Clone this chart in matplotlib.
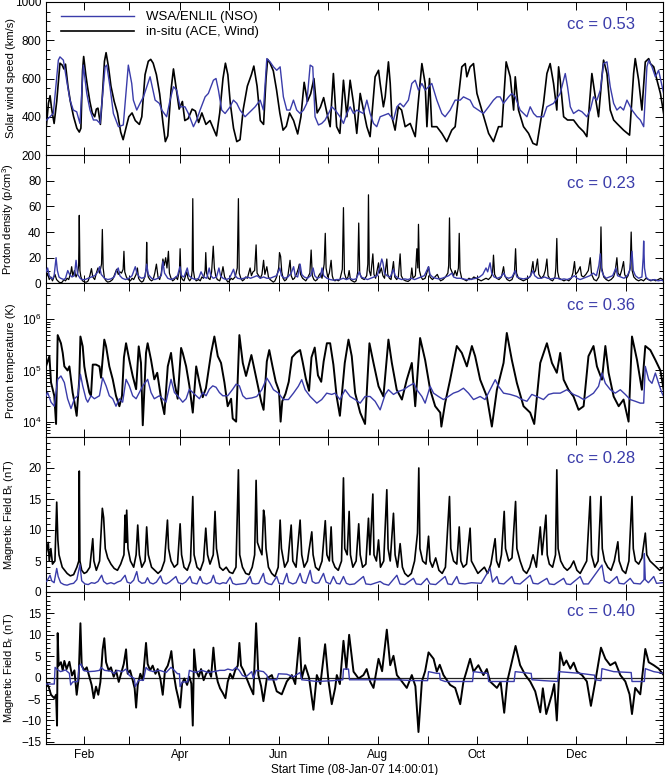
import datetime as dt
import matplotlib
matplotlib.use("Agg")
import matplotlib.pyplot as plt
import matplotlib.dates as mdates
from matplotlib.ticker import MultipleLocator, LogLocator, NullFormatter

# ---- data (day offset from 2007-01-08 14:00, value) ----
start = dt.datetime(2007, 1, 8, 14, 0, 1)
span_days = 380

speed_obs = [(0, 330), (1.5, 470), (2.5, 510), (3.5, 440), (5, 365), (6.6, 480), (8.6, 680), (10, 670),
             (11, 650), (12, 675), (13.5, 560), (15, 480), (17, 400), (19, 340), (20.5, 320), (21.5, 340),
             (22.5, 640), (23.2, 715), (24.5, 620), (25.5, 560), (27, 480), (28.5, 420), (30, 400), (31, 440),
             (32, 445), (33.5, 360), (34.5, 480), (36, 690), (37, 735), (38.5, 660), (40, 560), (42, 480),
             (44, 420), (46, 320), (47.5, 280), (49.5, 350), (51, 400), (53, 420), (55, 380), (57.5, 360),
             (59, 400), (61, 620), (63, 690), (64.5, 700), (66, 680), (68, 620), (70, 520), (72, 370),
             (73.5, 270), (75, 300), (77, 540), (78.5, 650), (80, 560), (82, 440), (84, 480), (85.5, 380),
             (87.5, 390), (90, 440), (92, 430), (94, 370), (96, 420), (98.5, 360), (101, 380), (103, 340),
             (105, 300), (107, 420), (109, 600), (110.5, 680), (112, 620), (113.5, 470), (115.5, 340),
             (117.5, 270), (119.5, 280), (121.5, 440), (124, 560), (126.5, 620), (128, 665), (130, 560),
             (132, 380), (134, 360), (135.5, 600), (136.5, 700), (138, 680), (140, 640), (142, 540),
             (144, 420), (146, 330), (148, 350), (150, 420), (152.5, 380), (155, 310), (157, 400), (159, 580),
             (161, 480), (163, 520), (165, 600), (167, 420), (169, 450), (171, 500), (173, 420), (175, 348),
             (177, 626), (179, 348), (181, 313), (183.2, 591), (185.3, 400), (187.3, 591), (189.4, 470),
             (191.4, 313), (193.5, 522), (195.5, 435), (197.6, 348), (199.6, 296), (202.7, 609),
             (204.8, 643), (205.8, 574), (207.8, 452), (208.9, 504), (210.9, 687), (212, 574), (213, 400),
             (215, 330), (217, 452), (219, 435), (221.2, 348), (224.3, 365), (227.4, 296), (229.4, 487),
             (231.5, 678), (233.5, 574), (234.6, 348), (236.2, 600), (237.6, 348), (240.7, 348),
             (243.8, 313), (246.8, 270), (249.9, 330), (252, 348), (256.1, 661), (258.2, 678), (259.2, 609),
             (261.2, 661), (263.3, 678), (265.4, 522), (268.4, 435), (272.6, 313), (275.6, 270),
             (278.7, 348), (280.8, 348), (283.4, 687), (285.9, 609), (288, 435), (289, 609), (291, 435),
             (294.1, 348), (297.2, 313), (299.9, 261), (302.3, 252), (306.4, 470), (308.5, 626),
             (310.5, 678), (312.6, 574), (314.6, 435), (315.7, 661), (316.7, 591), (318.8, 400),
             (321.2, 383), (324.9, 383), (328, 348), (331.1, 322), (333.1, 296), (336.2, 626), (338.3, 504),
             (340.3, 400), (342.4, 609), (343.4, 696), (345.5, 626), (347.5, 435), (349.6, 383),
             (351.6, 365), (355.7, 330), (359.4, 304), (361.9, 626), (362.9, 704), (365, 591), (367, 435),
             (369.1, 687), (371.2, 704), (372.2, 678), (374.3, 661), (376.3, 591), (378.4, 522), (380.4, 417)]

speed_model = [(0.4, 383), (4.5, 417), (7.6, 696), (8.6, 713), (10.7, 696), (12.7, 591), (14.8, 487),
               (16.8, 435), (18.9, 426), (20.9, 365), (23, 670), (25.1, 522), (27.1, 435), (29.2, 383),
               (31.2, 383), (33.3, 365), (36.4, 661), (37.4, 670), (39.4, 557), (41.5, 417), (44.6, 348),
               (47.6, 357), (50.7, 670), (52.8, 574), (53.8, 487), (55.9, 435), (57.9, 470), (60, 504),
               (64.1, 609), (67.2, 487), (69.8, 470), (71.3, 435), (74.3, 400), (76.4, 487), (78.5, 557),
               (80.5, 539), (82.6, 452), (85.6, 452), (87.7, 417), (90.8, 348), (92.8, 383), (94.9, 435),
               (98, 504), (100, 522), (103.1, 591), (104.7, 600), (106.2, 539), (108.2, 435), (110.3, 417),
               (113.4, 452), (115.4, 487), (117.5, 470), (119.5, 435), (122.6, 400), (125.7, 426),
               (128.8, 452), (131.9, 487), (133.9, 435), (136, 704), (138, 687), (140.1, 661), (142.1, 643),
               (144.2, 661), (146.2, 504), (148.3, 435), (150.3, 435), (152.4, 487), (154.4, 435),
               (156.5, 417), (158.6, 435), (160.6, 470), (162.7, 670), (164.3, 661), (165.7, 400),
               (167.8, 357), (169.8, 365), (171.9, 383), (174, 417), (176, 452), (178.1, 435), (181.1, 400),
               (183.2, 365), (185.3, 417), (187.3, 452), (189.4, 417), (191.4, 435), (195.5, 417),
               (197.6, 487), (199.6, 417), (201.7, 365), (203.7, 348), (205.8, 400), (210.9, 417),
               (214, 383), (216.1, 452), (218.1, 470), (220.2, 452), (223.2, 487), (225.3, 574), (227.4, 591),
               (229.4, 539), (231.5, 574), (233.5, 539), (235.6, 557), (237.6, 574), (240.7, 487),
               (243.8, 417), (245.8, 400), (248.9, 435), (252, 487), (255.1, 487), (257.1, 504), (261.2, 487),
               (263.3, 452), (266.3, 435), (269.4, 417), (272.6, 452), (275.6, 487), (277.7, 504),
               (279.7, 504), (281.8, 470), (284.9, 504), (286.9, 522), (289, 504), (292, 435), (296.2, 400),
               (298.2, 452), (300.3, 417), (302.3, 400), (306.4, 400), (308.5, 452), (312.6, 470),
               (316.7, 522), (319.8, 626), (321.2, 557), (322.9, 452), (324.9, 417), (328, 435), (330.1, 426),
               (333.1, 400), (335.2, 435), (337.2, 504), (339.3, 487), (341.4, 539), (343.4, 678),
               (345.5, 687), (347.5, 557), (349.6, 470), (351.6, 435), (353.7, 452), (355.7, 435),
               (357.8, 487), (360.9, 435), (364, 400), (366, 383), (368.1, 348), (370.1, 661), (371.2, 696),
               (373.2, 661), (375.3, 609), (377.3, 643), (380.4, 522)]

dens_obs = [(0, 4), (1, 8), (2, 3), (3, 5), (4, 2), (5.5, 7), (6.5, 3), (8, 1), (9, 0.5), (10, 1), (11, 3),
            (12, 2), (13, 4), (14, 3), (15.2, 8), (15.8, 13), (16.5, 6), (17.5, 10), (18.5, 5), (19.5, 8),
            (20.1, 14), (20.5, 53), (20.9, 10), (21.5, 5), (22.5, 2), (24, 1), (25, 1), (26, 2), (27, 6),
            (28, 11.5), (28.8, 5), (30, 3), (31, 8), (32, 12), (33, 8), (34.2, 15), (34.7, 42), (35.2, 12),
            (36, 4), (37, 2), (38, 1), (39.5, 1.5), (41, 3), (42, 6), (43.5, 11), (44.5, 7), (45.5, 9),
            (46.5, 8), (47.5, 11), (48, 25), (48.5, 9), (49.5, 5), (50.5, 3), (52, 2), (53, 4), (54, 3),
            (55.5, 7), (56.3, 12), (57, 4), (58, 2), (59, 1), (60, 2), (61, 6), (61.7, 12), (62, 32),
            (62.4, 10), (63, 5), (64, 3), (65, 2), (66, 3), (67, 8), (68, 15), (69, 5), (70, 3), (71, 8),
            (72, 19), (72.8, 14), (73.7, 20), (74.5, 12), (75.4, 25), (76, 8), (77, 4), (78, 2), (79, 3),
            (80, 5), (81, 3), (82.2, 10), (82.6, 27), (83.1, 6), (84, 3), (85, 2), (86.7, 9), (87.5, 4),
            (88.5, 2), (89.5, 4), (90, 10), (90.4, 66), (90.8, 10), (91.5, 4), (92.5, 2), (94, 3), (95, 2),
            (96, 5), (97, 4), (98, 10), (98.4, 24), (98.9, 8), (100, 4), (101, 3), (102, 9), (103, 29),
            (103.7, 12), (104.5, 6), (105.5, 3), (107, 2), (108, 6), (109, 13), (110, 5), (111, 3), (112, 1),
            (113, 2), (114, 4), (115, 3), (116.5, 5), (117.8, 12), (118.5, 66), (119, 8), (120, 4), (121, 2),
            (122, 3), (123, 5), (124, 4), (125.7, 12), (126.5, 6), (127.5, 9), (128.5, 10), (129.4, 30),
            (130, 8), (131, 6), (132, 4), (133, 7), (134, 18), (134.8, 7), (136, 13), (137, 5), (138, 3),
            (139, 2), (140, 1), (141, 2), (142, 5), (143.3, 12), (143.8, 24), (144.5, 21), (145.2, 9),
            (146, 4), (147, 2), (148, 3), (149, 6), (150.3, 18), (151, 6), (152, 3), (153, 4), (154.5, 8),
            (155.5, 12), (156, 15), (156.8, 7), (158, 4), (159, 3), (160, 2), (161, 4), (162.5, 8),
            (163.3, 26), (164, 6), (165, 3), (166, 2), (167, 3), (168, 6), (169, 8), (170, 4), (171.3, 15),
            (172, 39), (172.5, 12), (173.5, 5), (174.5, 8), (175.6, 18), (176.3, 6), (177, 3), (178, 2),
            (179, 3), (180, 2), (181, 3), (182.5, 11), (183.2, 59), (183.8, 8), (185, 3), (186, 5),
            (186.7, 10), (187.5, 3), (188.5, 2), (190, 1), (191, 2), (192, 9), (192.6, 47), (193.2, 8),
            (194.5, 4), (196, 3), (197.5, 6), (198.2, 15), (198.6, 69), (199.1, 10), (200, 6), (201.3, 23),
            (202, 7), (203, 4), (204.8, 16), (205.5, 8), (206.5, 12), (207.5, 6), (208.5, 4), (209.9, 19),
            (210.5, 7), (211.5, 4), (212.5, 3), (214, 17), (214.8, 5), (216, 3), (217, 5), (218.1, 23),
            (218.8, 6), (220, 3), (221.5, 2), (223, 1.5), (224.5, 3), (225.3, 12), (226, 4), (227.5, 6),
            (228.4, 27), (229, 12), (229.4, 46), (230, 10), (231, 5), (232, 3), (233.5, 4), (234.5, 8),
            (235.6, 13), (236.5, 5), (238, 3), (239.5, 5), (241, 7), (242, 4), (243, 2), (244.5, 3),
            (246, 5), (247.5, 8), (248, 14), (248.5, 51), (249, 12), (250, 9), (251, 6), (252, 10), (253, 6),
            (254, 12), (254.5, 39), (255, 10), (256, 4), (257.5, 3), (259, 2), (260.5, 4), (262, 3),
            (263.5, 5), (265, 4), (266.5, 3), (268, 2), (269.5, 3), (271, 4), (272.5, 3), (274, 5), (275, 8),
            (275.6, 22), (276.3, 7), (277.5, 4), (279, 3), (280.5, 5), (281.8, 13), (282.5, 6), (284, 3),
            (285.5, 2), (287, 3), (288.5, 8), (289.2, 27), (289.8, 8), (291, 4), (292.5, 3), (294, 2),
            (295.5, 3), (297, 4), (298.5, 6), (299.9, 17), (300.5, 8), (301.5, 10), (302.7, 19), (303.5, 7),
            (305, 4), (306.5, 6), (307.5, 10), (308.5, 19), (309.2, 6), (310.5, 3), (312, 2), (313.5, 5),
            (314, 12), (314.6, 35), (315.1, 9), (316, 4), (317.5, 3), (319, 2), (320.5, 3), (322, 2),
            (323.5, 4), (324.5, 8), (325.5, 17), (326.2, 7), (327.5, 9), (329, 13), (329.8, 6), (331, 5),
            (332.5, 7), (334, 10), (335.2, 20), (336, 7), (337.5, 3), (339, 2), (340.5, 5), (341.3, 12),
            (341.8, 44), (342.3, 12), (343.5, 5), (345, 3), (346.5, 2), (348, 3), (349.5, 5), (350.5, 9),
            (351.6, 20), (352.3, 8), (353.5, 6), (354.5, 10), (355.7, 17), (356.4, 7), (357.5, 4), (358.5, 6),
            (359.8, 12), (360.4, 40), (361, 10), (362, 5), (363.5, 3), (365, 2), (366.5, 3), (368, 2),
            (369.5, 4), (371, 3), (372.5, 2), (374, 3), (375.5, 2), (377, 3), (378.5, 4), (380, 3)]

dens_model = [(0, 9), (1, 12), (2, 6), (3, 4), (4, 3.5), (5, 6), (6.2, 20), (7, 10), (8, 5), (9, 4), (10, 3.5),
              (11, 3), (12, 4), (13.4, 10), (14.5, 7), (16, 5), (17.5, 6), (18.5, 18), (19.5, 7), (21, 4),
              (22, 3), (24, 3), (26, 4), (28, 5), (30, 6), (32, 9), (33, 13), (34, 7), (36, 4), (38, 3),
              (40, 3.5), (42, 5), (43.5, 10), (44.5, 12), (45.5, 6), (47, 4), (49, 3), (51, 4), (53, 6),
              (55, 13), (56, 8), (57.5, 5), (59, 4), (61, 5), (62, 15), (63, 7), (65, 4), (67, 3), (69, 4),
              (71, 6), (72, 17), (73, 8), (75, 4), (77, 3), (79, 4), (81, 6), (82.5, 13), (83.5, 6), (85, 5),
              (87, 12), (88, 6), (90, 4), (92, 3), (94, 4), (95.5, 9), (97, 5), (99, 4), (100.5, 12),
              (101.5, 6), (103, 4), (105, 5), (106.5, 12), (107.5, 6), (109, 4), (111, 3), (113, 4),
              (115.5, 11), (116.5, 6), (118, 4), (120, 3.5), (122, 4), (124, 5), (126, 4), (128, 5), (130, 6),
              (132, 4), (134, 5), (136, 4), (138, 4), (140, 5), (142, 6), (144, 12), (145, 6), (147, 4),
              (149, 5), (151, 8), (152.5, 13), (153.5, 6), (155, 5), (156.5, 15), (157.5, 7), (159, 5),
              (161, 4), (163, 6), (164.5, 12), (165.5, 6), (167, 4), (169, 5), (170, 12), (171, 6), (173, 4),
              (175, 3), (177, 2.5), (179, 3), (181, 3), (183, 4), (185, 3), (187, 4), (189, 3), (191, 3.5),
              (193, 9), (194, 5), (196, 4), (198, 3), (200, 4), (202, 5), (204, 6), (205.5, 12), (206.8, 19),
              (207.5, 16), (208.5, 8), (210, 6), (212, 5), (214, 11), (215, 6), (217, 4), (219, 3),
              (221, 3.5), (223, 3), (225, 4), (227, 3), (229, 4), (231, 5), (233, 6), (235.6, 13), (236.5, 7),
              (238, 5), (240, 4), (242, 3.5), (244, 4), (246, 5), (248, 6), (250, 8), (251, 5), (253, 4),
              (255, 4), (257, 3.5), (259, 3), (261, 3), (263, 3.5), (265, 4), (267, 5), (269, 7), (271, 12),
              (272, 9), (273.5, 16), (274.5, 8), (276, 5), (278, 4), (280, 5), (282, 8), (283, 5), (285, 4),
              (287, 5), (289, 10), (290, 5), (292, 4), (294, 3.5), (296, 4), (298, 5), (300, 10), (301, 6),
              (303, 4), (305, 4), (307, 5), (309, 4), (311, 3.5), (313, 4), (315, 4), (317, 3), (319, 3.5),
              (321, 3), (323, 4), (325.5, 6), (327, 4), (329, 3), (331, 4), (333, 5), (335, 6), (337, 8),
              (339, 6), (340.5, 14), (341.4, 23), (342.2, 10), (343.5, 6), (345, 4), (347, 5), (349, 6),
              (351, 12), (352, 6), (354, 5), (356, 4), (358, 6), (359.5, 10), (360.9, 25), (361.7, 10),
              (363, 6), (365, 4), (367, 5), (367.8, 20), (368.1, 33), (368.6, 12), (369.5, 5), (371, 3),
              (373, 2.5), (375, 3), (377, 2), (379, 2.5), (380, 2)]

# proton temperature in units of 1e3 K
temp_obs_kk = [(0, 120), (2.1, 190), (3.1, 58), (5.1, 32), (6.2, 9), (7.2, 490), (9.2, 340), (10.3, 220),
               (11.3, 120), (13.3, 100), (14.4, 120), (16.4, 37), (17.5, 24), (18.9, 13), (20.5, 67),
               (21.2, 460), (22.6, 295), (23.6, 120), (24.6, 78), (26.7, 37), (27.7, 32), (28.8, 130),
               (30.8, 130), (32.9, 120), (33.9, 72), (35.9, 400), (37, 295), (39, 120), (41.1, 67), (43.1, 32),
               (45.2, 20), (46.8, 32), (48, 180), (49.3, 340), (51.3, 160), (53.4, 78), (55.5, 43), (57.1, 295),
               (58.5, 140), (59.6, 8.5), (61.6, 220), (62.6, 340), (64.7, 160), (66.7, 67), (68.5, 90),
               (70.9, 28), (72.9, 14), (75, 120), (77, 220), (79.1, 58), (81.1, 28), (83.2, 275), (84.2, 220),
               (86.3, 120), (88.3, 50), (90.4, 15), (92.5, 120), (94.5, 58), (96.5, 30), (98.5, 45),
               (101.7, 220), (103.7, 460), (105.8, 190), (107.8, 140), (109.9, 58), (111.9, 20), (114, 28),
               (115, 11.5), (117.1, 10), (119.1, 490), (121.2, 140), (123.2, 78), (126.5, 200), (128.5, 100),
               (130.5, 50), (132.5, 25), (134, 17), (136, 150), (137.5, 250), (139.5, 120), (141.5, 60),
               (143.5, 40), (144.5, 10), (145.5, 25), (147.5, 35), (149.5, 60), (151.5, 180), (154, 220),
               (156.5, 250), (158, 150), (160, 70), (162, 40), (163.5, 180), (165.5, 280), (167.5, 80),
               (169.5, 60), (171, 150), (173, 340), (175, 340), (177, 130), (179, 31), (181, 13), (184, 140),
               (186.3, 400), (188.3, 190), (190.4, 36), (193.5, 15), (196.5, 9), (199.2, 340), (201.7, 140),
               (204.8, 49), (207.8, 31), (210.9, 400), (213, 140), (216, 42), (219.2, 27), (222.2, 66),
               (225.3, 140), (227.4, 20), (230.4, 430), (233.5, 160), (236.6, 42), (239.7, 20), (242.8, 15),
               (243.5, 8), (245.8, 23), (248.9, 66), (253, 300), (256.1, 220), (259.2, 120), (262.3, 300),
               (264.3, 190), (267.4, 66), (271.5, 31), (274.6, 8), (277.7, 42), (281.8, 140), (283.8, 540),
               (286.9, 160), (290, 57), (294.1, 20), (298.2, 15), (300.7, 9), (304.4, 140), (308.5, 340),
               (311.6, 140), (314.6, 90), (316.7, 220), (318.8, 66), (321.8, 42), (324.9, 31), (328, 17),
               (331.1, 20), (334.1, 190), (337.2, 300), (339.3, 120), (342.4, 66), (344.5, 300), (346.5, 90),
               (349.6, 31), (352.7, 20), (355.7, 27), (358.8, 10), (360.9, 460), (364, 160), (367, 42),
               (369.1, 300), (372.2, 250), (375.3, 160), (378.4, 100), (380.4, 42)]

temp_model_kk = [(0, 32), (1, 37), (3.1, 24), (5.1, 20), (7.2, 67), (9.2, 78), (11.3, 58), (13.3, 28),
                 (15.4, 18), (17.5, 28), (19.5, 32), (21.2, 84), (22.6, 50), (24.6, 28), (25.7, 24), (27.7, 32),
                 (29.8, 28), (32.9, 32), (34.9, 72), (37, 50), (39, 32), (41.1, 28), (43.1, 20), (45.2, 28),
                 (47.2, 24), (49.3, 67), (51.3, 50), (53.4, 32), (55.5, 28), (57.5, 37), (59.6, 50),
                 (62.6, 67), (64.7, 37), (66.7, 28), (69.8, 32), (71.9, 28), (73.9, 24), (77, 67), (79.1, 37),
                 (81.1, 32), (84.2, 24), (86.3, 28), (88.3, 43), (90.4, 37), (94.5, 28), (96.5, 37),
                 (98.6, 32), (100.6, 43), (102.7, 50), (104.7, 47), (106.8, 37), (108.9, 32), (111.9, 32),
                 (115, 43), (117.1, 54), (119.1, 50), (121.2, 32), (123.2, 28), (126.7, 29), (129.8, 31),
                 (132.9, 42), (136, 71), (138, 56), (140.1, 42), (143.2, 36), (146.2, 27), (149.3, 27),
                 (152.4, 36), (155.4, 49), (157.5, 66), (159.6, 42), (162.7, 31), (166.8, 23), (169.8, 27),
                 (172.9, 36), (176, 34), (178, 36), (181.1, 27), (184.2, 42), (187.3, 31), (190.4, 27),
                 (193.5, 23), (196.5, 31), (199.6, 31), (202.7, 25), (205.8, 17), (208.9, 34), (210.9, 42),
                 (214, 34), (217.1, 39), (220.2, 42), (223.2, 49), (226.5, 56), (228.4, 42), (231.5, 31),
                 (233.5, 23), (236.6, 49), (238.7, 36), (241.7, 31), (244.8, 27), (247.9, 31), (250.9, 36),
                 (254, 39), (257.1, 45), (260.2, 36), (263.3, 27), (267.4, 31), (270.4, 27), (273.5, 42),
                 (276.7, 66), (278.7, 49), (281.8, 36), (285.9, 34), (290, 31), (293.1, 27), (296.2, 25),
                 (299.2, 34), (302.3, 31), (306.4, 27), (309.5, 34), (312.6, 36), (316.7, 36), (320.8, 42),
                 (324.9, 34), (328, 31), (331.1, 27), (334.1, 31), (337.2, 36), (340.3, 49), (342.4, 89),
                 (344.5, 56), (347.6, 42), (350.6, 36), (353.7, 42), (356.8, 34), (359.8, 27), (362.9, 25),
                 (366, 23), (368.1, 23), (369.1, 120), (371.2, 66), (373.2, 56), (375.3, 89), (377.3, 56),
                 (379.4, 36), (380.4, 31)]

bt_obs = [(0, 6), (1.4, 8), (2, 5), (3, 7), (4, 4.5), (5.5, 5), (6.6, 14.5), (7.3, 8.4), (8, 6), (9, 5),
          (10, 4), (11.5, 3.5), (13, 3), (15, 2.6), (17, 2.8), (19, 4), (20.2, 5), (20.5, 19.5), (20.9, 5),
          (22, 3.5), (23.5, 3), (25, 3.2), (27, 4), (28.8, 8.6), (29.5, 5), (31, 3.5), (33, 5), (34.7, 13.5),
          (35.5, 12), (36.5, 7), (38, 5.5), (40, 4.5), (42, 3.8), (44, 3.5), (46, 4.5), (48, 6), (48.7, 12.4),
          (49.2, 8), (49.7, 13.2), (50.5, 7), (52, 5), (54, 4), (55.5, 6), (56.5, 10.8), (57.5, 6), (59, 4),
          (61, 5), (62, 10.5), (63, 6), (65, 4), (67, 3.5), (69, 3), (71, 3.5), (73, 5), (74.8, 11.6),
          (75.5, 7), (77, 5), (79, 4), (81, 4.5), (82.6, 11), (83.5, 6), (85, 4), (87, 3.5), (89, 5),
          (90.4, 15.4), (91.2, 6), (93, 4), (95, 3.5), (97, 5), (98.4, 10.3), (99.5, 6), (101, 4.5), (103, 6),
          (104.1, 13), (105, 7), (107, 4), (109, 3.5), (111, 4), (113, 3.2), (115, 3), (117, 4), (118.5, 19.7),
          (119.3, 6), (121, 4), (123, 3), (125, 2.8), (127, 4), (128.5, 6), (129.4, 18), (130.2, 8),
          (131.5, 7), (133, 6), (134, 13.2), (134.7, 12), (135.5, 7), (137, 4), (139, 3), (141, 2.5), (143, 4),
          (144.2, 11.6), (145, 7), (147, 4), (149, 5), (151, 10.8), (152, 5), (154, 4), (156.5, 11.6),
          (157.5, 6), (159, 4), (161, 5), (163.7, 9.7), (164.5, 6), (166, 4), (168, 3.5), (170, 5), (172, 11.5),
          (173, 6), (174.5, 5), (175.6, 10.5), (176.5, 5), (178, 4), (180, 3.5), (182, 5), (183.2, 18.4),
          (184, 7), (185.5, 6), (186.7, 13), (187.5, 6), (189, 4), (191, 5), (192.6, 11), (193.5, 6), (195, 4),
          (197, 4.5), (198.6, 11.9), (199.5, 6), (201.3, 15.8), (202, 6), (203.5, 5), (204.8, 8.4), (206, 4),
          (208, 5), (209.9, 16.5), (210.7, 7), (212, 5), (214, 12.7), (215, 6), (216.5, 4), (218.1, 7.8),
          (219.5, 4), (221, 3), (223, 2.5), (225, 3), (227, 5), (228.8, 9.5), (229.6, 20), (230.3, 7),
          (232, 5), (234, 4.5), (235.6, 9), (236.5, 5), (238, 4), (240, 5.5), (242, 3.5), (244, 3), (246, 4),
          (248.5, 15.4), (249.3, 7), (251, 5), (253, 4.5), (254.5, 10.5), (255.5, 5), (257, 4), (259, 4.5),
          (261.2, 10.3), (262, 5), (264, 4), (266, 3), (268, 3.5), (270, 4), (272, 3), (274, 4.5),
          (276.6, 8.6), (277.5, 5), (279, 4), (280.5, 6), (282.2, 13), (283, 7), (285, 5), (287, 5.5),
          (289.2, 14.6), (290, 7), (292, 5), (294, 3.5), (296, 3), (298, 4), (300, 6), (302, 4), (304.4, 10.5),
          (305.5, 6), (307.9, 12.4), (308.7, 6), (310, 4.5), (312, 4), (313.8, 6), (314.6, 19.7), (315.4, 7),
          (317, 5), (319, 4), (321, 3.5), (323, 4), (325, 5), (327, 3.5), (329, 3), (331, 4), (333, 5),
          (335.2, 15.4), (336, 6), (338, 4), (340, 5), (341.8, 15.4), (342.6, 7), (344, 5), (346, 4),
          (348, 3.5), (350, 5), (352.2, 8.1), (353, 5), (355, 3.5), (357, 3), (359, 5), (360.9, 15.4),
          (361.7, 7), (363, 5), (365, 4.5), (367, 5.5), (369.1, 9.5), (370, 6), (372, 5), (374, 4.5), (376, 4),
          (378, 3.5), (380, 4)]

bt_model = [(0.4, 1.7), (1.5, 2.2), (2.5, 2.7), (3.5, 1.8), (5, 1.5), (6.6, 3.8), (7.5, 2.5), (9, 1.5),
            (11, 1.2), (13, 1.1), (15, 1.3), (17, 1.4), (19, 2.0), (20.9, 4.4), (22, 1.8), (24, 1.3), (26, 1.2),
            (28, 1.5), (30, 1.4), (32, 1.7), (34.3, 2.7), (35.5, 1.7), (37.5, 1.3), (40, 1.5), (42, 1.3),
            (44, 1.6), (46, 1.8), (48.7, 2.7), (50, 1.6), (52, 1.4), (54, 1.9), (55.9, 3.3), (57, 1.8),
            (59, 1.4), (61, 1.5), (62.5, 2.3), (64, 1.5), (66, 1.3), (68, 1.6), (70.5, 2.6), (72, 1.5),
            (74, 1.3), (76, 1.6), (80, 2.5), (81.5, 1.5), (84, 1.3), (86, 1.6), (88.7, 2.5), (90, 1.5),
            (93, 1.3), (94.9, 2.5), (96.5, 1.5), (99, 1.3), (101.5, 1.6), (103.1, 2.7), (104.5, 1.5),
            (107, 1.3), (109, 1.5), (111, 1.4), (113.4, 2.4), (115, 1.4), (117, 1.2), (120, 1.3), (123, 1.4),
            (125.7, 2.5), (127, 1.4), (129, 1.3), (131, 1.4), (133.9, 3.0), (135, 1.6), (137, 1.3), (139, 1.2),
            (142.1, 2.5), (143.5, 1.4), (146, 1.3), (148.3, 3.0), (149.5, 1.6), (152, 1.3), (154, 1.5),
            (156.5, 3.0), (158, 1.6), (160, 1.4), (162.7, 3.5), (164, 1.7), (166, 1.4), (168, 1.5),
            (170.9, 3.0), (172.5, 1.6), (175, 1.3), (177, 2.5), (179, 1.4), (181, 1.3), (183.2, 2.5),
            (185, 1.4), (187, 1.2), (190, 1.3), (195.5, 2.5), (197, 1.3), (200, 1.2), (205.8, 1.7), (208, 1.3),
            (211, 1.1), (216.1, 2.7), (218, 1.3), (221, 1.2), (226.3, 2.2), (228, 1.3), (231, 1.2),
            (234.6, 2.2), (236.5, 1.3), (240, 1.2), (245.8, 2.5), (247.5, 1.3), (250, 1.2), (253, 2.5),
            (254.5, 1.4), (258, 1.3), (262, 1.5), (268, 1.4), (273.5, 3.8), (275, 1.6), (277.7, 2.5),
            (279, 1.4), (282, 1.3), (286.9, 2.5), (288.5, 1.4), (292, 1.3), (298.2, 2.7), (300, 1.4),
            (303, 1.3), (308.5, 2.2), (310, 1.3), (313, 1.2), (318.8, 2.2), (320.5, 1.3), (323, 1.2), (329, 2.5),
            (331, 1.3), (334, 1.3), (342.4, 4.35), (344, 1.8), (347, 1.4), (351.6, 2.5), (353, 1.4), (356, 1.3),
            (359.8, 2.2), (362, 1.4), (366, 1.3), (368.3, 2.0), (368.5, 6.2), (369.1, 2.0), (371, 1.5),
            (374.3, 2.5), (376, 1.4), (380, 1.5)]

br_obs = [(0, -1.0), (1.6, -2.1), (3.1, -4.0), (5.1, -4.8), (6.2, -4.0), (6.8, -11.2), (7.2, 10.4), (7.8, 2.8),
          (9.2, 3.6), (10.3, 1.7), (11.3, 3.9), (12.7, 2.0), (14.4, 3.7), (16, 0.5), (17.5, 1.7), (18.9, -4.0),
          (20.1, -0.2), (21.2, 12.7), (22, 2.8), (23.6, 1.7), (25.1, 2.4), (26.7, 0.2), (28.1, -1.7),
          (29.4, -4.8), (30.8, -2.1), (32.2, -4.0), (33.5, -1.0), (34.9, 6.6), (35.9, 9.2), (37, 3.6),
          (38.6, 1.7), (40, 2.4), (41.7, 0.2), (43.1, 1.7), (44.8, -1.0), (46.2, 0.9), (47.9, 3.2),
          (49.3, 6.6), (50.3, 0.9), (51.8, 1.7), (53.4, -0.6), (54.6, -2.5), (55.5, -7.0), (56.5, -1.7),
          (58.1, 0.9), (59.6, -0.6), (61.6, 8.1), (62.6, 3.2), (64.1, 1.7), (65.7, 2.8), (67.4, 0.9),
          (68.8, 2.0), (70.4, -0.2), (71.9, -4.0), (73.3, 1.7), (75, 2.8), (76.4, 4.7), (77.2, 6.2),
          (78.5, 1.3), (80.1, -2.5), (81.5, -4.8), (82.6, -7.0), (83.8, -1.4), (85.2, -0.2), (86.9, -1.7),
          (88.3, 0.2), (89.5, -1.4), (90.4, -11.2), (91.2, 6.6), (92.4, 1.7), (94.1, 0.2), (95.5, 2.0),
          (97.1, -0.6), (98.6, 0.9), (100.2, 1.7), (101.7, 0.2), (103.1, 7.0), (104.3, 1.7), (105.8, -1.0),
          (107.2, -2.5), (108.9, -3.6), (110.5, -4.8), (111.9, -1.0), (113.4, 0.9), (115, -0.2), (116.5, 1.7),
          (118.1, 2.8), (119.1, 8.1), (120.1, 2.8), (121.6, 1.7), (123.2, 0.2), (125.5, -2.0), (127.7, -3.9),
          (129.4, 12.7), (130.8, 0.6), (132.5, -2.0), (133.9, -5.5), (136, -0.2), (139.1, 0.6), (142.1, -3.2),
          (145.2, -3.9), (148.3, -0.9), (151.4, 0.6), (153.5, -1.5), (156.1, 9.3), (157.5, -0.2),
          (159.6, 2.9), (162, 0.0), (164.7, -7.5), (166.8, 0.6), (169, -1.5), (171.9, 7.8), (174, -0.9),
          (176, -6.2), (178.1, -2.4), (179.1, 0.6), (181, -1.5), (183.2, 8.6), (185, 2.0), (186.7, 10),
          (189.4, 1.4), (192.5, -0.2), (195.5, 0.6), (197.5, 2.0), (199.6, -0.9), (201.7, -2.4), (204.8, 4.4),
          (207, 1.5), (209.9, 11.2), (212, 2.9), (214, 5.1), (216.1, 0.6), (219.2, -0.9), (222.2, -2.4),
          (225.3, 0.6), (227.5, -2.0), (229.4, -12.7), (231.5, -0.9), (233.5, 1.5), (235.6, 5.9),
          (238.7, 4.4), (240.7, 1.4), (242.5, 3.0), (244.8, 0.6), (248.9, -1.7), (252, -2.4), (255.1, -6.2),
          (257.1, -0.9), (259, 1.5), (261.2, 4.4), (263.3, 1.4), (266.3, 2.9), (269.4, 0.6), (271.5, 2.0),
          (273.5, -0.9), (277.7, -2.4), (280, -1.0), (282.2, -8.2), (284, -1.0), (285.9, 2.1), (289.2, 7.4),
          (292, 2.9), (295.2, 0.6), (298.2, -0.9), (301.3, -3.2), (304.4, -8.1), (306, -2.5), (308.1, -8.5),
          (311.6, -3.9), (313, -1.5), (314.6, -10), (316.7, 5.9), (318.8, 2.9), (320.5, 4.0), (322.9, 2.1),
          (325, 3.5), (327, 1.4), (330.1, 0.6), (333.1, -0.9), (335.6, -6.6), (338.3, -0.9), (341.8, 7),
          (344.5, 4.4), (347.5, 2.9), (350.6, 3.6), (353.7, 0.6), (356.8, -0.9), (359.4, -3.9), (360.9, -8.5),
          (362.9, -2.4), (366, -3.9), (369.1, 6.7), (371.2, 3.6), (374.3, 2.9), (377.3, 2.1), (380.4, 0.6)]

br_model = [(0, -1.5), (5.1, -1.5), (5.6, 2.4), (6.5, 2.0), (9, 1.4), (12, 1.8), (14.4, 1.0), (15.2, -1.7),
            (16.5, -1.0), (19.5, -0.9), (20.5, 2.8), (21.6, 3.2), (23, 1.7), (26, 1.4), (30, 1.5), (33, 1.7),
            (33.9, 2.4), (36, 1.7), (40, 1.5), (42, 0.9), (44, 1.7), (47, 1.4), (49.3, 2.0), (51.3, 0.5),
            (54.4, -0.2), (55, -2.1), (57, -0.6), (60, -0.6), (61.6, 2.4), (63, 1.8), (66, 1.4), (70, 1.7),
            (74, 1.2), (77, 2.4), (79, 1.7), (81, 0.9), (82.2, 0.9), (82.6, -2.1), (84, -1.0), (87.3, -1.0),
            (88.3, 1.7), (92, 1.2), (96, 1.7), (100, 1.2), (104.7, 1.5), (107, 1.7), (110, 1.7), (112, 2.0),
            (115, 1.7), (117, 2.4), (119, 1.7), (121, 0.5), (123.2, 0.2), (126.7, 1.4), (127.7, -0.2),
            (129.4, 1.7), (133.9, 1.4), (136, 0.6), (137, -0.5), (142.1, -0.5), (143.2, 0.9), (148.3, 0.8),
            (152.4, 0.2), (156.5, 1.2), (157.5, -0.5), (162.7, -0.7), (166.8, -0.9), (177, -0.7),
            (182.8, -0.5), (183.2, 2), (186.3, 2), (186.9, -0.5), (191.4, -0.5), (205.8, -0.5), (216.1, -0.5),
            (226.3, -0.7), (235, -0.7), (235.6, 1.4), (240.7, 1), (242.4, 1), (242.8, -0.5), (245.8, -0.9),
            (253, -0.9), (262.7, -0.9), (263.3, 1.4), (271.5, 1), (272.1, 1), (272.6, -0.9), (277.7, -0.9),
            (288.3, -0.9), (289, 1.4), (298.2, 1), (298.8, 1), (299.3, -0.5), (306.4, -0.7), (315.1, -0.9),
            (315.7, 1.4), (329, 1), (337.2, 0.6), (337.8, 0.6), (338.3, -0.5), (341.8, -0.7), (342.4, 2.1),
            (349.6, 1.4), (359.8, 1.2), (360.4, 1.2), (360.9, -0.9), (368.5, -0.9), (369.1, 2.1),
            (374.3, 1.4), (380.4, 1)]

cc_values = ["0.53", "0.23", "0.36", "0.28", "0.40"]
ylabels = ["Solar wind speed (km/s)", "Proton density (p/cm$^3$)", "Proton temperature (K)",
           "Magnetic Field B$_t$ (nT)", "Magnetic Field B$_r$ (nT)"]

BLUE = "#3a3caa"
t0 = mdates.date2num(start)


def split(pairs, scale=1.0):
    days = [t0 + p[0] for p in pairs]
    vals = [p[1] * scale for p in pairs]
    return days, vals


plt.rcParams["font.family"] = ["Liberation Sans", "DejaVu Sans"]
plt.rcParams["mathtext.fontset"] = "custom"
plt.rcParams["mathtext.rm"] = "Liberation Sans"
plt.rcParams["mathtext.it"] = "Liberation Sans"
plt.rcParams["font.size"] = 8.5

fig = plt.figure(figsize=(6.65, 7.75), dpi=100)
W, H = 665.0, 775.0
left, right = 46, 663
rows = [(2, 155), (155, 283.4), (283.4, 437), (437, 592), (592, 744)]
axes = []
for top, bot in rows:
    ax = fig.add_axes([left / W, 1 - bot / H, (right - left) / W, (bot - top) / H])
    axes.append(ax)

series = [(speed_obs, speed_model, 1.0), (dens_obs, dens_model, 1.0), (temp_obs_kk, temp_model_kk, 1e3),
          (bt_obs, bt_model, 1.0), (br_obs, br_model, 1.0)]
black_lw = [1.2, 0.9, 1.4, 1.2, 1.4]
cc_y = [0.85, 0.78, 0.855, 0.86, 0.87]

for i, ax in enumerate(axes):
    obs, mod, sc = series[i]
    xo, yo = split(obs, sc)
    xm, ym = split(mod, sc)
    if i == 4:
        ax.axhline(0, color="#222222", lw=0.9, zorder=1)
    ax.plot(xo, yo, color="black", lw=black_lw[i], label="in-situ (ACE, Wind)", zorder=2)
    ax.plot(xm, ym, color=BLUE, lw=1.0, label="WSA/ENLIL (NSO)", zorder=3)
    ax.set_xlim(t0, t0 + span_days)
    ax.set_ylabel(ylabels[i], fontsize=8)
    ax.yaxis.set_label_coords(-0.048, 0.5)
    ax.text(0.955, cc_y[i], "cc = " + cc_values[i], color=BLUE,
            fontsize=12, ha="right", va="center", transform=ax.transAxes)
    ax.tick_params(which="both", direction="in", top=True, right=True, width=0.7, labelsize=8.5)
    ax.tick_params(which="major", length=6)
    ax.tick_params(which="minor", length=3)
    ax.xaxis.set_major_locator(mdates.MonthLocator(bymonth=[2, 4, 6, 8, 10, 12]))
    ax.xaxis.set_minor_locator(mdates.MonthLocator(bymonth=[1, 3, 5, 7, 9, 11]))
    ax.tick_params(axis="x", which="minor", length=6)
    ax.xaxis.set_major_formatter(mdates.DateFormatter("%b"))
    for sp in ax.spines.values():
        sp.set_linewidth(0.8)
    if i < 4:
        ax.tick_params(axis="x", labelbottom=False)

axes[0].set_ylim(200, 1000)
axes[0].yaxis.set_major_locator(MultipleLocator(200))
axes[0].yaxis.set_minor_locator(MultipleLocator(50))

axes[1].set_ylim(0, 100)
axes[1].yaxis.set_minor_locator(MultipleLocator(10))
axes[1].set_yticks([0, 20, 40, 60, 80])

axes[2].set_yscale("log")
axes[2].set_ylim(10 ** 3.7, 10 ** 6.7)
axes[2].set_yticks([1e4, 1e5, 1e6])
axes[2].yaxis.set_minor_locator(LogLocator(base=10, subs=range(2, 10)))
axes[2].yaxis.set_minor_formatter(NullFormatter())

axes[3].set_ylim(0, 25)
axes[3].yaxis.set_minor_locator(MultipleLocator(1))
axes[3].set_yticks([0, 5, 10, 15, 20])

axes[4].set_ylim(-15.5, 20)
axes[4].set_yticks([-15, -10, -5, 0, 5, 10, 15])
axes[4].yaxis.set_minor_locator(MultipleLocator(1))
axes[4].set_xlabel("Start Time (08-Jan-07 14:00:01)", fontsize=8.5, labelpad=2)

h, l = axes[0].get_legend_handles_labels()
axes[0].legend(h[::-1], l[::-1], loc="upper left", bbox_to_anchor=(0.01, 1.0), frameon=False,
               handlelength=5.5, handletextpad=0.9, fontsize=9.5, labelspacing=0.2, borderaxespad=0.3)

fig.savefig("out.png", dpi=100)
